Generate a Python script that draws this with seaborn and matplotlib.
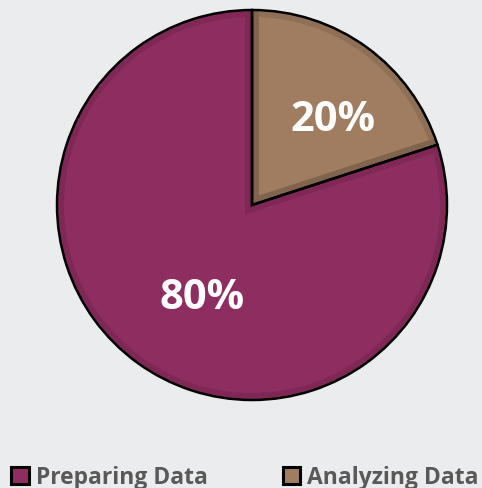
import matplotlib
matplotlib.use("Agg")
import matplotlib.pyplot as plt
import seaborn as sns
import numpy as np
from matplotlib.patches import Patch, Circle

# datos del grafico
categorias = ["Preparing Data", "Analyzing Data"]
valores = [80, 20]
colores = ["#8E2D5F", "#A07D60"]

sns.set_style("white")
plt.rcParams["font.family"] = ["Open Sans", "DejaVu Sans"]

fig = plt.figure(figsize=(4.82, 4.88), dpi=100, facecolor="#EBECEE")
ax = fig.add_axes([57 / 482, 88 / 488, 390 / 482, 390 / 488])
ax.set_facecolor("#EBECEE")

# se dibuja primero Analyzing para que arranque arriba en sentido horario
orden = [1, 0]
vals = [valores[i] for i in orden]
cols = [colores[i] for i in orden]

# borde interior oscuro (efecto de sombreado), recortado al circulo
sombra, _ = ax.pie(vals, colors=cols, startangle=90, counterclock=False,
                   wedgeprops=dict(edgecolor=(0, 0, 0, 0.10), linewidth=10))
circulo = Circle((0, 0), 1, transform=ax.transData)
for w in sombra:
    w.set_clip_on(True)
    w.set_clip_path(circulo)

wedges, texts, autotexts = ax.pie(
    vals,
    colors=cols,
    startangle=90,
    counterclock=False,
    autopct="%1.0f%%",
    wedgeprops=dict(edgecolor="black", linewidth=1.8, fill=False),
    textprops=dict(color="white", fontsize=30, fontweight="bold"),
)
# posicion de las etiquetas de porcentaje (ajuste de angulo y distancia)
for w, t, da, d in zip(wedges, autotexts, [-7, 7], [0.61, 0.53]):
    ang = np.deg2rad((w.theta1 + w.theta2) / 2 + da)
    t.set_position((d * np.cos(ang), d * np.sin(ang) - 0.015))

ax.set_xlim(-1, 1)
ax.set_ylim(-1, 1)
ax.set_aspect("equal")

handles = [Patch(facecolor=c, edgecolor="black", linewidth=2.2) for c in colores]
leg = fig.legend(handles, categorias, loc="lower left", bbox_to_anchor=(-0.019, -0.046),
                 ncol=2, frameon=False, handlelength=0.75, handleheight=0.75,
                 handletextpad=0.3, columnspacing=3.3,
                 prop=dict(size=16.5, weight="bold"))
for t in leg.get_texts():
    t.set_color("#595959")

fig.savefig("out.png", dpi=100, facecolor=fig.get_facecolor())
